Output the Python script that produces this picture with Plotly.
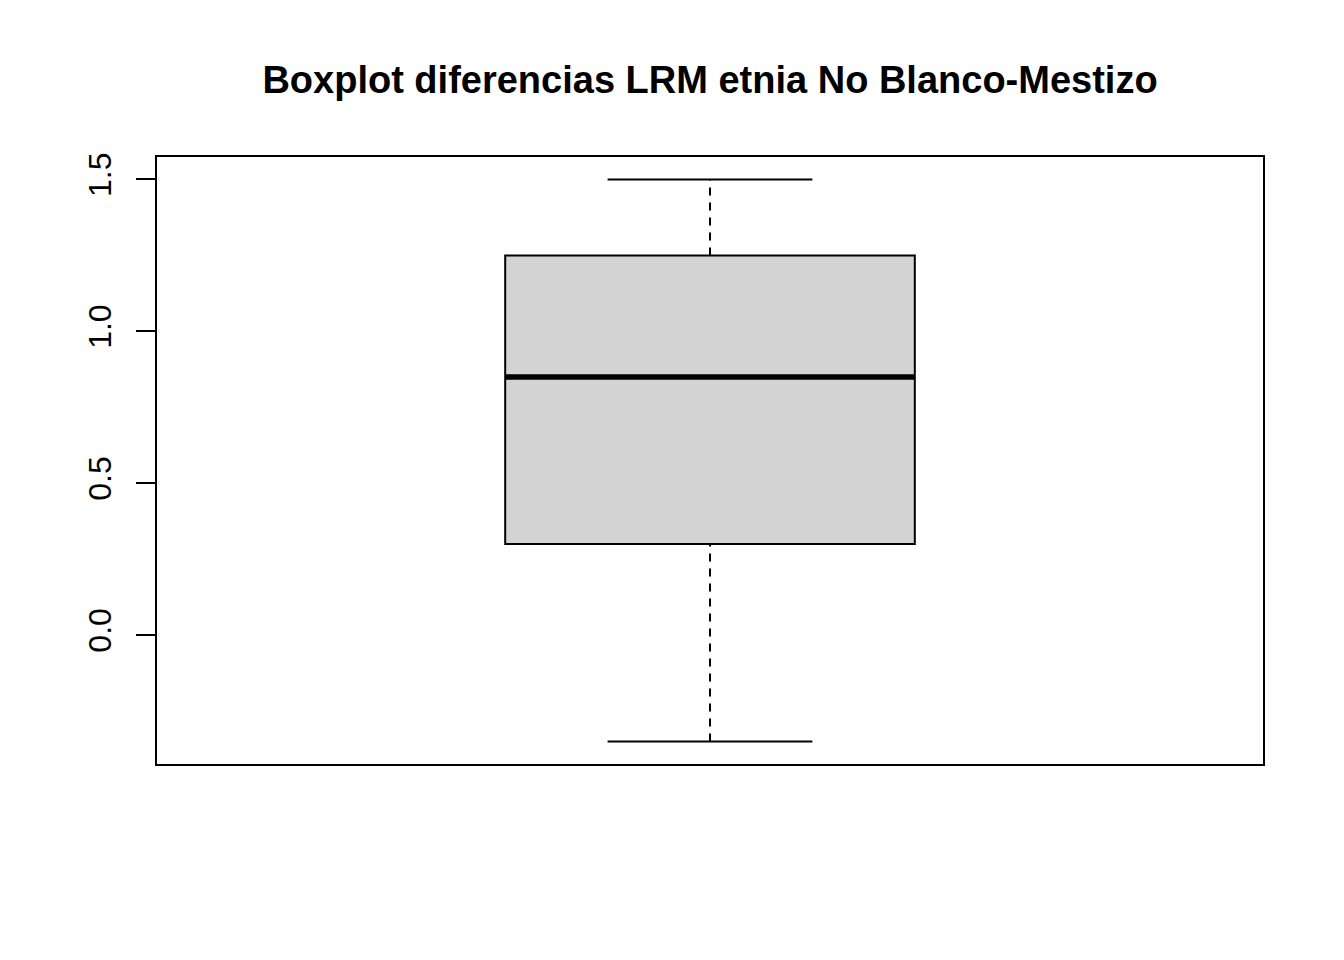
import plotly.graph_objects as go

# Data
categories = ["No Blanco-Mestizo"]
lower_whisker = [-0.35]
q1_vals = [0.30]
median_vals = [0.85]
q3_vals = [1.25]
upper_whisker = [1.50]
tick_values = [0.0, 0.5, 1.0, 1.5]
tick_labels = ["0.0", "0.5", "1.0", "1.5"]
title_text = "Boxplot diferencias LRM etnia No Blanco-Mestizo"

FONT = "Arial, 'Liberation Sans', sans-serif"
BOX_W = 0.4
CAP_HALF = BOX_W / 4
xpos = 1

fig = go.Figure()

# Box (whiskers collapsed; drawn separately as dashed lines)
fig.add_trace(go.Box(
    x=[xpos], q1=q1_vals, median=median_vals, q3=q3_vals,
    lowerfence=q1_vals, upperfence=q3_vals,
    width=BOX_W, whiskerwidth=0,
    fillcolor="#D3D3D3", line=dict(color="black", width=2),
    boxpoints=False, hoverinfo="skip", showlegend=False,
))

# Dashed whiskers
for lo, hi in [(q3_vals[0], upper_whisker[0]), (lower_whisker[0], q1_vals[0])]:
    fig.add_trace(go.Scatter(
        x=[xpos, xpos], y=[lo, hi], mode="lines",
        line=dict(color="black", width=2, dash="8px,7px"),
        showlegend=False, hoverinfo="skip",
    ))

# Whisker caps
for v in [upper_whisker[0], lower_whisker[0]]:
    fig.add_trace(go.Scatter(
        x=[xpos - CAP_HALF, xpos + CAP_HALF], y=[v, v], mode="lines",
        line=dict(color="black", width=2),
        showlegend=False, hoverinfo="skip",
    ))

# Thick median line
fig.add_trace(go.Scatter(
    x=[xpos - BOX_W / 2, xpos + BOX_W / 2], y=[median_vals[0], median_vals[0]],
    mode="lines", line=dict(color="black", width=5.5),
    showlegend=False, hoverinfo="skip",
))

fig.update_layout(
    width=1344, height=960,
    margin=dict(l=157, r=81, t=157, b=196, pad=0),
    paper_bgcolor="white", plot_bgcolor="white",
    font=dict(family=FONT, size=32, color="black"),
    title=dict(
        text="<b>" + title_text + "</b>",
        font=dict(family=FONT, size=38, color="black"),
        x=0.5, xref="paper", xanchor="center",
        y=1 - 80 / 960, yref="container", yanchor="middle",
    ),
    xaxis=dict(
        range=[0.46, 1.54], showgrid=False, zeroline=False,
        showticklabels=False, ticks="",
        showline=True, mirror=True, linecolor="black", linewidth=2,
    ),
    yaxis=dict(
        range=[-0.424, 1.574], showgrid=False, zeroline=False,
        tickvals=tick_values, ticktext=tick_labels,
        ticks="outside", ticklen=19, tickwidth=2, tickcolor="black",
        tickangle=-90, tickfont=dict(family=FONT, size=32, color="black"),
        ticklabelstandoff=12,
        showline=True, mirror=True, linecolor="black", linewidth=2,
    ),
)

fig.write_html("out.html")
